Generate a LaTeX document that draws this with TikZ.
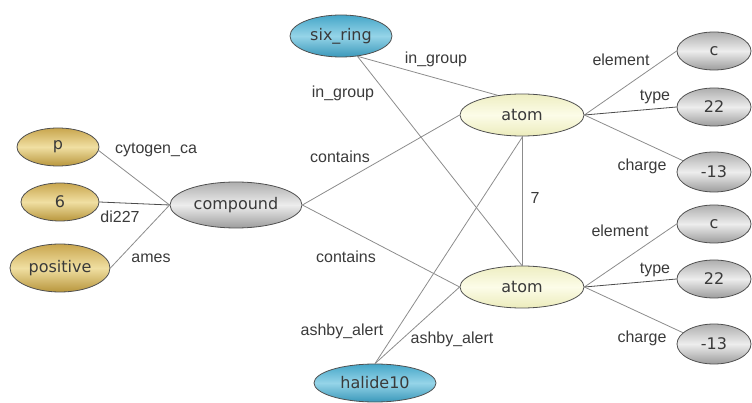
\documentclass[tikz,border=0pt]{standalone}
\usepackage{fontspec}
\setmainfont{DejaVu Sans}
\newfontfamily\labfont{Liberation Sans}
\usetikzlibrary{shapes.geometric}
\definecolor{edgegray}{HTML}{8C8C8C}
\definecolor{txt}{HTML}{3A3A3A}
\definecolor{bord}{HTML}{505050}
\definecolor{goldT}{HTML}{C9A64E}
\definecolor{goldM}{HTML}{F0DFA2}
\definecolor{goldB}{HTML}{B8963C}
\definecolor{tealT}{HTML}{45A6C8}
\definecolor{tealM}{HTML}{95D4E8}
\definecolor{tealB}{HTML}{3A98BA}
\definecolor{grayT}{HTML}{AEAEAE}
\definecolor{grayM}{HTML}{EDEDED}
\definecolor{grayB}{HTML}{9C9C9C}
\definecolor{yelT}{HTML}{EEEEC2}
\definecolor{yelM}{HTML}{FCFCE8}
\definecolor{yelB}{HTML}{ECECBC}
\tikzset{
  ent/.style={ellipse, draw=bord, line width=0.8pt, inner sep=0pt, text=txt,
    font=\fontsize{16}{16}\selectfont},
  goldn/.style={ent, top color=goldT, bottom color=goldB, middle color=goldM},
  tealn/.style={ent, top color=tealT, bottom color=tealB, middle color=tealM},
  grayn/.style={ent, top color=grayT, bottom color=grayB, middle color=grayM},
  yeln/.style={ent, top color=yelT, bottom color=yelB, middle color=yelM},
  lab/.style={text=txt, inner sep=0pt, font=\labfont\fontsize{16}{16}\selectfont},
  link/.style={draw=edgegray, line width=0.8pt},
  darklink/.style={draw=black!70, line width=0.8pt}
}
\begin{document}
\begin{tikzpicture}[x=1pt,y=-1pt]
\useasboundingbox (0,0) rectangle (752,403);
% nodes
\node[tealn, minimum width=102pt, minimum height=42pt] (six) at (341,36) {six\_ring};
\node[yeln, minimum width=124pt, minimum height=42pt] (a1) at (522,115) {atom};
\node[yeln, minimum width=124pt, minimum height=42pt] (a2) at (522,287) {atom};
\node[tealn, minimum width=122pt, minimum height=38pt] (hal) at (375,383) {halide10};
\node[grayn, minimum width=132pt, minimum height=46pt] (cmp) at (236,205) {compound};
\node[goldn, minimum width=82pt, minimum height=38pt] (p) at (58,147) {p};
\node[goldn, minimum width=78pt, minimum height=38pt] (six6) at (60,202) {6};
\node[goldn, minimum width=100pt, minimum height=48pt] (pos) at (60,268) {positive};
\node[grayn, minimum width=74pt, minimum height=38pt] (c1) at (714,51) {c};
\node[grayn, minimum width=74pt, minimum height=38pt] (t1) at (714,107) {22};
\node[grayn, minimum width=74pt, minimum height=40pt] (ch1) at (714,172) {-13};
\node[grayn, minimum width=74pt, minimum height=38pt] (c2) at (714,224) {c};
\node[grayn, minimum width=74pt, minimum height=38pt] (t2) at (714,279) {22};
\node[grayn, minimum width=74pt, minimum height=40pt] (ch2) at (714,344) {-13};
% edges
\draw[link] (p.-5) -- (cmp.west);
\draw[darklink] (six6.east) -- (cmp.west);
\draw[link] (pos.east) -- (cmp.west);
\draw[link] (cmp.east) -- (a1.west);
\draw[link] (cmp.east) -- (a2.west);
\draw[link] (six.-51) -- (a1.141);
\draw[link] (six.-51) -- (a2.north);
\draw[link] (a1.south) -- (a2.north);
\draw[link] (hal.north) -- (a1.-88);
\draw[link] (hal.north) -- (a2.west);
\draw[link] (a1.east) -- (c1.west);
\draw[darklink] (a1.east) -- (t1.west);
\draw[link] (a1.east) -- (ch1.160);
\draw[link] (a2.east) -- (c2.west);
\draw[darklink] (a2.east) -- (t2.west);
\draw[link] (a2.east) -- (ch2.160);
% labels
\node[lab] (lcyt) at (156,150) {cytogen\_ca};
\node[lab] (ldi) at (120,217) {di227};
\node[lab] (lames) at (151,258) {ames};
\node[lab] (lcon1) at (340,157) {contains};
\node[lab] (lcon2) at (346,257) {contains};
\node[lab] (lig1) at (436,59) {in\_group};
\node[lab] (lig2) at (343,93) {in\_group};
\node[lab] (lseven) at (535,198) {7};
\node[lab] (lash1) at (342,331) {ashby\_alert};
\node[lab] (lash2) at (452,339) {ashby\_alert};
\node[lab] (lel1) at (621,60) {element};
\node[lab] (lty1) at (655,97) {type};
\node[lab] (lch1) at (642,166) {charge};
\node[lab] (lel2) at (620,231) {element};
\node[lab] (lty2) at (655,270) {type};
\node[lab] (lch2) at (642,338) {charge};
\end{tikzpicture}
\end{document}
